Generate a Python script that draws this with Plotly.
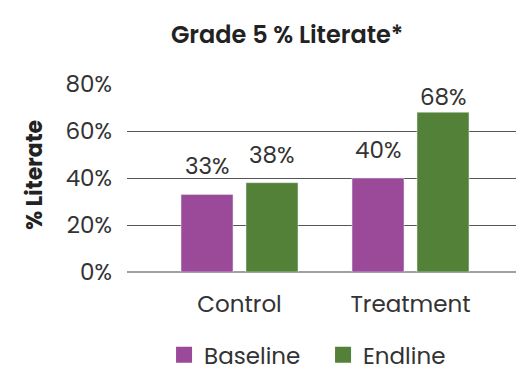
import plotly.graph_objects as go

categories = ["Control", "Treatment"]
baseline = [33, 40]
endline = [38, 68]
baseline_labels = ["33%", "40%"]
endline_labels = ["38%", "68%"]
tick_vals = [0, 20, 40, 60, 80]
tick_text = ["0%", "20%", "40%", "60%", "80%"]

FONT = "Poppins, Open Sans, sans-serif"
TXT = "#333333"
FS = 23
PURPLE = "#9A4A99"
GREEN = "#538138"
Y_MAX = 80
PLOT_H = 188  # px height of plot area

fig = go.Figure()
fig.add_trace(go.Bar(name="Baseline", x=categories, y=baseline, marker_color=PURPLE, showlegend=False))
fig.add_trace(go.Bar(name="Endline", x=categories, y=endline, marker_color=GREEN, showlegend=False))
# legend entries with larger square swatches
fig.add_trace(go.Scatter(name="Baseline", x=[None], y=[None], mode="markers",
                         marker=dict(symbol="square", size=16, color=PURPLE)))
fig.add_trace(go.Scatter(name="Endline", x=[None], y=[None], mode="markers",
                         marker=dict(symbol="square", size=16, color=GREEN)))

# data labels placed above bars, kept inside the plot area (like Excel)
annotations = []
px_per_unit = PLOT_H / Y_MAX
for vals, labels, dx in ((baseline, baseline_labels, -32.5), (endline, endline_labels, 32.5)):
    for cat, v, lab in zip(categories, vals, labels):
        avail = (Y_MAX - v) * px_per_unit
        annotations.append(dict(x=cat, y=v, xref="x", yref="y", text=lab, showarrow=False,
                                xanchor="center", yanchor="bottom", xshift=dx,
                                yshift=min(10, avail - 31),
                                font=dict(size=FS, color=TXT, family=FONT)))
annotations.append(dict(text="<b>% Literate</b>", textangle=-90, xref="paper", yref="paper",
                        x=-0.2365, y=0.516, xanchor="center", yanchor="middle", showarrow=False,
                        font=dict(size=22, color="#222222", family=FONT)))

fig.update_layout(
    width=522, height=391,
    margin=dict(l=127, r=6, t=84, b=119, autoexpand=False),
    paper_bgcolor="white", plot_bgcolor="white",
    barmode="group", bargap=0.24, bargroupgap=0.2,
    font=dict(family=FONT, color=TXT),
    title=dict(text="Grade 5 % Literate*", x=0.55, xref="container", xanchor="center",
               y=1 - 35 / 391, yref="container", yanchor="middle",
               font=dict(size=24, color="#222222", family=FONT, weight=600)),
    legend=dict(orientation="h", x=0.504, xanchor="center", y=-0.44, yanchor="middle",
                font=dict(size=FS, color=TXT, family=FONT), itemwidth=30, itemsizing="trace",
                entrywidth=114, entrywidthmode="pixels", traceorder="normal"),
    annotations=annotations,
)
fig.update_xaxes(range=[-0.658, 1.617], showgrid=False, ticks="", showline=False, automargin=False,
                 tickfont=dict(size=FS, color=TXT, family=FONT), ticklabelstandoff=16)
fig.update_yaxes(range=[0, Y_MAX], tickvals=tick_vals, ticktext=tick_text, automargin=False,
                 showgrid=True, gridcolor="#555555", gridwidth=1,
                 zeroline=True, zerolinecolor="#A0A0A0", zerolinewidth=2,
                 tickfont=dict(size=FS, color=TXT, family=FONT), ticklabelstandoff=14)
fig.write_html("out.html", config={"displayModeBar": False},
               post_script="document.body.style.margin='0';")
